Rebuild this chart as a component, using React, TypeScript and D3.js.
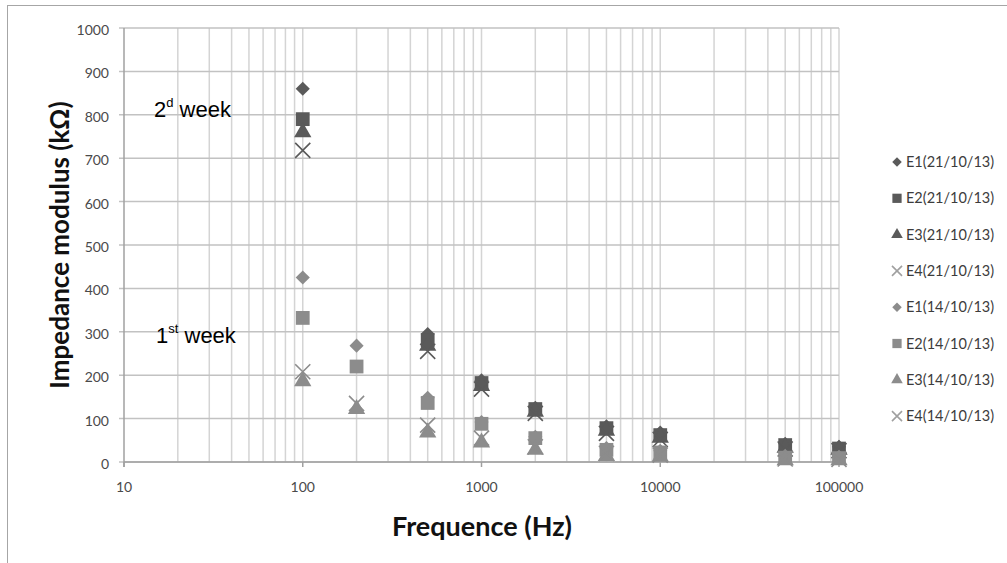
import React, { useEffect, useRef } from 'react';
import * as d3 from 'd3';

// frequencies (Hz)
const freqAll = [100, 200, 500, 1000, 2000, 5000, 10000, 50000, 100000];
const freqWeek2 = [100, 500, 1000, 2000, 5000, 10000, 50000, 100000];

// impedance modulus (kOhm)
const e1Week2 = [860, 295, 188, 125, 82, 68, 42, 35];
const e2Week2 = [790, 281, 182, 122, 78, 62, 39, 31];
const e3Week2 = [760, 268, 175, 116, 72, 56, 33, 28];
const e4Week2 = [718, 255, 168, 112, 66, 52, 30, 26];
const e1Week1 = [425, 268, 148, 92, 58, 32, 26, 14, 12];
const e2Week1 = [332, 220, 136, 88, 55, 28, 22, 10, 9];
const e3Week1 = [186, 122, 68, 45, 28, 14, 12, 4, 4];
const e4Week1 = [208, 135, 85, 55, 35, 20, 16, 7, 6];

const seriesNames = [
  'E1(21/10/13)', 'E2(21/10/13)', 'E3(21/10/13)', 'E4(21/10/13)',
  'E1(14/10/13)', 'E2(14/10/13)', 'E3(14/10/13)', 'E4(14/10/13)',
];
const yTicks = [0, 100, 200, 300, 400, 500, 600, 700, 800, 900, 1000];
const xTicks = [10, 100, 1000, 10000, 100000];

const App = () => {
  const svgRef = useRef<SVGSVGElement>(null);

  useEffect(() => {
    const svg = d3.select(svgRef.current);
    svg.selectAll('*').remove();

    const width = 1007;
    const height = 563;
    const margin = { top: 28, right: 168, bottom: 101, left: 124 };
    const dark = '#5a5a5a';
    const light = '#8c8c8c';

    const series = [
      { name: seriesNames[0], x: freqWeek2, y: e1Week2, shape: 'diamond', color: dark },
      { name: seriesNames[1], x: freqWeek2, y: e2Week2, shape: 'square', color: dark },
      { name: seriesNames[2], x: freqWeek2, y: e3Week2, shape: 'triangle', color: dark },
      { name: seriesNames[3], x: freqWeek2, y: e4Week2, shape: 'cross', color: dark },
      { name: seriesNames[4], x: freqAll, y: e1Week1, shape: 'diamond', color: light },
      { name: seriesNames[5], x: freqAll, y: e2Week1, shape: 'square', color: light },
      { name: seriesNames[6], x: freqAll, y: e3Week1, shape: 'triangle', color: light },
      { name: seriesNames[7], x: freqAll, y: e4Week1, shape: 'cross', color: light },
    ];

    const xScale = d3.scaleLog()
      .domain([10, 100000])
      .range([margin.left, width - margin.right]);
    const yScale = d3.scaleLinear()
      .domain([0, 1000])
      .range([height - margin.bottom, margin.top]);

    // chart frame
    svg.append('rect')
      .attr('x', 7.5).attr('y', 5.5)
      .attr('width', width).attr('height', height)
      .attr('fill', 'white')
      .attr('stroke', '#a6a6a6');

    // vertical gridlines (minor + major)
    const minor: number[] = [];
    for (let dec = 10; dec < 100000; dec *= 10) {
      for (let k = 2; k <= 10; k++) minor.push(dec * k);
    }
    svg.append('g')
      .selectAll('line')
      .data(minor)
      .enter()
      .append('line')
      .attr('x1', d => xScale(d)).attr('x2', d => xScale(d))
      .attr('y1', yScale(1000)).attr('y2', yScale(0))
      .attr('stroke', '#d4d4d4')
      .attr('stroke-width', 1.5);

    // horizontal gridlines
    svg.append('g')
      .selectAll('line')
      .data(yTicks)
      .enter()
      .append('line')
      .attr('x1', margin.left - 5).attr('x2', width - margin.right)
      .attr('y1', d => yScale(d)).attr('y2', d => yScale(d))
      .attr('stroke', '#c2c2c2')
      .attr('stroke-width', 1.5);

    // axes lines
    svg.append('line')
      .attr('x1', margin.left).attr('x2', margin.left)
      .attr('y1', yScale(1000)).attr('y2', yScale(0) + 5)
      .attr('stroke', '#a0a0a0').attr('stroke-width', 1.5);
    svg.append('line')
      .attr('x1', margin.left).attr('x2', width - margin.right)
      .attr('y1', yScale(0)).attr('y2', yScale(0))
      .attr('stroke', '#a0a0a0').attr('stroke-width', 1.5);
    svg.append('g')
      .selectAll('line')
      .data(xTicks)
      .enter()
      .append('line')
      .attr('x1', d => xScale(d)).attr('x2', d => xScale(d))
      .attr('y1', yScale(0)).attr('y2', yScale(0) + 5)
      .attr('stroke', '#a0a0a0').attr('stroke-width', 1.5);

    // tick labels
    svg.append('g')
      .selectAll('text')
      .data(yTicks)
      .enter()
      .append('text')
      .attr('x', margin.left - 15)
      .attr('y', d => yScale(d) + 7)
      .attr('text-anchor', 'end')
      .style('font-family', 'Lato, sans-serif')
      .style('font-size', '14px')
      .attr('fill', '#4a4a4a')
      .text(d => d);

    svg.append('g')
      .selectAll('text')
      .data(xTicks)
      .enter()
      .append('text')
      .attr('x', d => xScale(d))
      .attr('y', yScale(0) + 30)
      .attr('text-anchor', 'middle')
      .style('font-family', 'Lato, sans-serif')
      .style('font-size', '14px')
      .attr('fill', '#4a4a4a')
      .text(d => d);

    // axis titles
    svg.append('text')
      .attr('transform', `translate(69,${(yScale(0) + yScale(1000)) / 2}) rotate(-90)`)
      .attr('text-anchor', 'middle')
      .style('font-family', 'Lato, sans-serif')
      .style('font-size', '26px')
      .style('font-weight', 'bold')
      .attr('fill', '#111')
      .text('Impedance modulus (kΩ)');

    svg.append('text')
      .attr('x', 482)
      .attr('y', 536)
      .attr('text-anchor', 'middle')
      .style('font-family', 'Lato, sans-serif')
      .style('font-size', '27px')
      .style('font-weight', 'bold')
      .attr('fill', '#111')
      .text('Frequence (Hz)');

    // markers
    const markerPath = (shape: string, big: boolean) => {
      const k = big ? 1 : 0.45;
      if (shape === 'diamond') return d3.symbol(d3.symbolSquare, 100 * k)();
      if (shape === 'square') return d3.symbol(d3.symbolSquare, 190 * k)();
      if (shape === 'triangle') return d3.symbol(d3.symbolTriangle, 130 * k)();
      return d3.symbol(d3.symbolTimes, 150 * k)();
    };
    const drawMarker = (g: any, shape: string, color: string, big: boolean) => {
      g.append('path')
        .attr('d', markerPath(shape, big))
        .attr('transform', shape === 'diamond' ? 'rotate(45)' : null)
        .attr('fill', shape === 'cross' ? 'none' : color)
        .attr('stroke', shape === 'cross' ? color : 'none')
        .attr('stroke-width', shape === 'cross' ? 1.6 : 0);
    };

    series.forEach(s => {
      const pts = s.x.map((f, j) => ({ f, v: s.y[j] }));
      const groups = svg.append('g')
        .selectAll('g')
        .data(pts)
        .enter()
        .append('g')
        .attr('transform', d => `translate(${xScale(d.f)},${yScale(d.v)})`);
      groups.each(function () {
        drawMarker(d3.select(this), s.shape, s.color, true);
      });
    });

    // legend
    series.forEach((s, i) => {
      const y = 162 + i * 36.3;
      const g = svg.append('g').attr('transform', `translate(897,${y})`);
      drawMarker(g, s.shape, s.shape === 'cross' ? '#a0a0a0' : s.color, false);
      svg.append('text')
        .attr('x', 906)
        .attr('y', y + 5)
        .style('font-family', 'Lato, sans-serif')
        .style('font-size', '14.5px')
        .attr('fill', '#3c3c3c')
        .text(s.name);
    });

    // annotations
    const note2 = svg.append('text')
      .attr('x', 154).attr('y', 117)
      .style('font-family', '"Liberation Sans", Arial, sans-serif')
      .style('font-size', '22px')
      .attr('fill', '#000');
    note2.append('tspan').text('2');
    note2.append('tspan').attr('dy', -10).style('font-size', '13px').text('d');
    note2.append('tspan').attr('dy', 10).text(' week');

    const note1 = svg.append('text')
      .attr('x', 156).attr('y', 343)
      .style('font-family', '"Liberation Sans", Arial, sans-serif')
      .style('font-size', '22px')
      .attr('fill', '#000');
    note1.append('tspan').text('1');
    note1.append('tspan').attr('dy', -10).style('font-size', '13px').text('st');
    note1.append('tspan').attr('dy', 10).text(' week');
  }, []);

  return (
    <svg
      ref={svgRef}
      width={1007}
      height={563}
      style={{ position: 'absolute', left: 0, top: 0, background: 'white' }}
    />
  );
};

export default App;
